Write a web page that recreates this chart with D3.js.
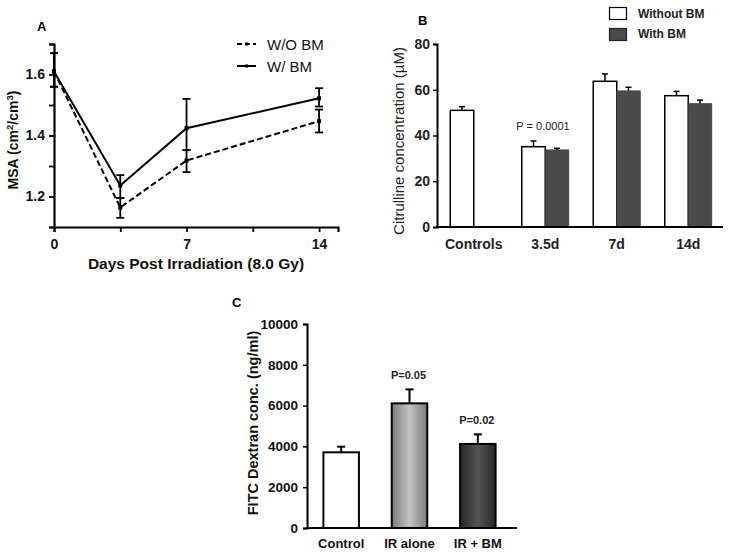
<!DOCTYPE html>
<html><head><meta charset="utf-8">
<script src="https://cdn.jsdelivr.net/npm/d3@7"></script>
<style>body{margin:0;background:#fff}svg{display:block}text{font-family:Arial,"Liberation Sans",sans-serif}</style>
</head><body>
<script>
// ---- Panel A data ----
const daysA = [0, 3.5, 7, 14];
const woBM = [1.61, 1.164, 1.318, 1.447];
const woBMlo = [1.56, 1.13, 1.28, 1.41];
const woBMhi = [1.67, 1.195, 1.352, 1.485];
const wBM = [1.61, 1.236, 1.424, 1.522];
const wBMlo = [1.56, 1.195, 1.352, 1.495];
const wBMhi = [1.67, 1.27, 1.52, 1.555];
const ticksA_x = [0, 7, 14];
const ticksA_y = [1.2, 1.4, 1.6];
// ---- Panel B data ----
const catsB = ["Controls", "3.5d", "7d", "14d"];
const withoutBM = [51.0, 35.1, 63.7, 57.4];
const withoutBMerr = [1.6, 2.5, 3.2, 1.9];
const withBM = [null, 33.7, 59.5, 53.9];
const withBMerr = [null, 0.7, 1.6, 1.6];
const ticksB_y = [0, 20, 40, 60, 80];
// ---- Panel C data ----
const catsC = ["Control", "IR alone", "IR + BM"];
const fitc = [3710, 6110, 4120];
const fitcErr = [275, 685, 470];
const pC = [null, "P=0.05", "P=0.02"];
const ticksC_y = [0, 2000, 4000, 6000, 8000, 10000];

const svg = d3.select("body").append("svg").attr("width", 729).attr("height", 554);

// ================= Panel A =================
{
  const x = d3.scaleLinear().domain([0, 15]).range([54, 338]);
  const y = d3.scaleLinear().domain([1.1, 1.7]).range([227, 44]);
  const g = svg.append("g");
  const xa = g.append("g").attr("transform", "translate(0,227)")
    .call(d3.axisBottom(x).tickValues([0, 3.5, 7, 10.5, 14]).tickSize(5)
      .tickFormat(d => ticksA_x.includes(d) ? d : ""));
  const ya = g.append("g").attr("transform", "translate(54,0)")
    .call(d3.axisLeft(y).tickValues([1.1, 1.2, 1.3, 1.4, 1.5, 1.6, 1.7]).tickSize(5)
      .tickFormat(d => ticksA_y.some(t => Math.abs(t - d) < 1e-9) ? d3.format(".1f")(d) : ""));
  [xa, ya].forEach(a => {
    a.select(".domain").attr("stroke", "#000").attr("stroke-width", 2.2);
    a.selectAll(".tick line").attr("stroke", "#000").attr("stroke-width", 1.8);
    a.selectAll("text").attr("fill", "#111").style("font-size", "14px").style("font-weight", "bold");
  });
  xa.selectAll("text").attr("dy", "1.0em");
  ya.selectAll("text").attr("dx", "-1px");

  const line = d3.line().x((d, i) => x(daysA[i])).y(d => y(d));
  const series = [
    {v: woBM, lo: woBMlo, hi: woBMhi, dash: "6,3"},
    {v: wBM, lo: wBMlo, hi: wBMhi, dash: null}
  ];
  series.forEach(s => {
    g.append("path").attr("d", line(s.v)).attr("fill", "none").attr("stroke", "#000")
      .attr("stroke-width", 2).attr("stroke-dasharray", s.dash);
    daysA.forEach((d, i) => {
      const cx = x(d);
      g.append("line").attr("x1", cx).attr("x2", cx).attr("y1", y(s.lo[i])).attr("y2", y(s.hi[i]))
        .attr("stroke", "#000").attr("stroke-width", 1.8);
      [s.lo[i], s.hi[i]].forEach(v => g.append("line").attr("x1", cx - 4).attr("x2", cx + 4)
        .attr("y1", y(v)).attr("y2", y(v)).attr("stroke", "#000").attr("stroke-width", 1.8));
      g.append("rect").attr("x", cx - 2).attr("y", y(s.v[i]) - 2).attr("width", 4).attr("height", 4).attr("fill", "#000");
    });
  });
  // legend
  const leg = [{t: "W/O BM", dash: "5,3", y: 44}, {t: "W/ BM", dash: null, y: 66}];
  leg.forEach(l => {
    g.append("line").attr("x1", 237).attr("x2", 256).attr("y1", l.y).attr("y2", l.y)
      .attr("stroke", "#000").attr("stroke-width", 2).attr("stroke-dasharray", l.dash);
    g.append("rect").attr("x", 245).attr("y", l.y - 1.5).attr("width", 3).attr("height", 3).attr("fill", "#000");
    g.append("text").attr("x", 267).attr("y", l.y + 5.5).text(l.t).style("font-size", "15px").attr("fill", "#111");
  });
  g.append("text").attr("x", 196).attr("y", 269).attr("text-anchor", "middle")
    .style("font-size", "15.5px").style("font-weight", "bold").attr("fill", "#111").text("Days Post Irradiation (8.0 Gy)");
  const yl = g.append("text").attr("transform", "translate(18,140) rotate(-90)").attr("text-anchor", "middle")
    .style("font-size", "14px").style("font-weight", "bold").attr("fill", "#111");
  yl.append("tspan").text("MSA (cm");
  yl.append("tspan").text("2").attr("dy", -5).style("font-size", "9.5px");
  yl.append("tspan").text("/cm").attr("dy", 5);
  yl.append("tspan").text("3").attr("dy", -5).style("font-size", "9.5px");
  yl.append("tspan").text(")").attr("dy", 5);
  g.append("text").attr("x", 37).attr("y", 31).text("A").style("font-size", "13px").style("font-weight", "bold");
}

// ================= Panel B =================
{
  const x = d3.scaleBand().domain(catsB).range([438, 724]).paddingInner(0).paddingOuter(0);
  const y = d3.scaleLinear().domain([0, 80]).range([227, 44]);
  const g = svg.append("g");
  const bw = 23.5;
  catsB.forEach((c, i) => {
    const cx = x(c) + x.bandwidth() / 2;
    const v = withoutBM[i];
    g.append("line").attr("x1", cx - bw / 2).attr("x2", cx - bw / 2).attr("y1", y(v)).attr("y2", y(v + withoutBMerr[i]))
      .attr("stroke", "#000").attr("stroke-width", 1.5);
    g.append("line").attr("x1", cx - bw / 2 - 3).attr("x2", cx - bw / 2 + 3).attr("y1", y(v + withoutBMerr[i])).attr("y2", y(v + withoutBMerr[i]))
      .attr("stroke", "#000").attr("stroke-width", 1.5);
    g.append("rect").attr("x", cx - bw).attr("y", y(v)).attr("width", bw).attr("height", y(0) - y(v))
      .attr("fill", "#fff").attr("stroke", "#000").attr("stroke-width", 1.5);
    if (withBM[i] != null) {
      const w = withBM[i];
      g.append("line").attr("x1", cx + bw / 2).attr("x2", cx + bw / 2).attr("y1", y(w)).attr("y2", y(w + withBMerr[i]))
        .attr("stroke", "#000").attr("stroke-width", 1.5);
      g.append("line").attr("x1", cx + bw / 2 - 3).attr("x2", cx + bw / 2 + 3).attr("y1", y(w + withBMerr[i])).attr("y2", y(w + withBMerr[i]))
        .attr("stroke", "#000").attr("stroke-width", 1.5);
      g.append("rect").attr("x", cx).attr("y", y(w)).attr("width", bw).attr("height", y(0) - y(w))
        .attr("fill", "#4a4a4a").attr("stroke", "#3a3a3a").attr("stroke-width", 0.8);
    }
  });
  const ya = g.append("g").attr("transform", "translate(437,0)")
    .call(d3.axisLeft(y).tickValues(ticksB_y).tickSize(4));
  ya.select(".domain").attr("stroke", "#000").attr("stroke-width", 2);
  ya.selectAll(".tick line").attr("stroke", "#000").attr("stroke-width", 1.5);
  ya.selectAll("text").style("font-size", "14px").style("font-weight", "bold").attr("fill", "#222");
  g.append("line").attr("x1", 436).attr("x2", 723).attr("y1", 227).attr("y2", 227).attr("stroke", "#000").attr("stroke-width", 2);
  catsB.forEach(c => g.append("text").attr("x", x(c) + x.bandwidth() / 2).attr("y", 249).attr("text-anchor", "middle")
    .style("font-size", "14px").style("font-weight", "bold").attr("fill", "#222").text(c));
  g.append("text").attr("x", 543).attr("y", 130).attr("text-anchor", "middle").style("font-size", "11px").attr("fill", "#222").text("P = 0.0001");
  g.append("text").attr("transform", "translate(404,141) rotate(-90)").attr("text-anchor", "middle")
    .style("font-size", "15px").attr("fill", "#222").text("Citrulline concentration (µM)");
  g.append("text").attr("x", 418).attr("y", 25).text("B").style("font-size", "13px").style("font-weight", "bold");
  // legend
  g.append("rect").attr("x", 609.5).attr("y", 7.5).attr("width", 17).attr("height", 12).attr("fill", "#fff").attr("stroke", "#000").attr("stroke-width", 1.2);
  g.append("text").attr("x", 638).attr("y", 18).text("Without BM").style("font-size", "12px").style("font-weight", "bold").attr("fill", "#222");
  g.append("rect").attr("x", 609.5).attr("y", 28.5).attr("width", 17).attr("height", 12).attr("fill", "#4a4a4a").attr("stroke", "#222").attr("stroke-width", 1.2);
  g.append("text").attr("x", 638).attr("y", 38).text("With BM").style("font-size", "12px").style("font-weight", "bold").attr("fill", "#222");
}

// ================= Panel C =================
{
  const defs = svg.append("defs");
  const mk = (id, edge, mid) => {
    const lg = defs.append("linearGradient").attr("id", id).attr("x1", "0").attr("x2", "1").attr("y1", "0").attr("y2", "0");
    lg.append("stop").attr("offset", "0").attr("stop-color", edge);
    lg.append("stop").attr("offset", "0.5").attr("stop-color", mid);
    lg.append("stop").attr("offset", "1").attr("stop-color", edge);
  };
  mk("gLight", "#7a7a7a", "#c4c4c4");
  mk("gDark", "#262626", "#555555");
  const fills = ["#fff", "url(#gLight)", "url(#gDark)"];
  const x = d3.scaleBand().domain(catsC).range([307, 512]).paddingInner(0.48).paddingOuter(0.24);
  const y = d3.scaleLinear().domain([0, 10000]).range([528, 324]);
  const g = svg.append("g");
  catsC.forEach((c, i) => {
    const x0 = x(c), bw = x.bandwidth(), cx = x0 + bw / 2;
    g.append("line").attr("x1", cx).attr("x2", cx).attr("y1", y(fitc[i])).attr("y2", y(fitc[i] + fitcErr[i]))
      .attr("stroke", "#000").attr("stroke-width", 2);
    g.append("line").attr("x1", cx - 4).attr("x2", cx + 4).attr("y1", y(fitc[i] + fitcErr[i])).attr("y2", y(fitc[i] + fitcErr[i]))
      .attr("stroke", "#000").attr("stroke-width", 2);
    g.append("rect").attr("x", x0).attr("y", y(fitc[i])).attr("width", bw).attr("height", y(0) - y(fitc[i]))
      .attr("fill", fills[i]).attr("stroke", "#000").attr("stroke-width", 2);
    if (pC[i]) g.append("text").attr("x", cx - 1).attr("y", y(fitc[i] + fitcErr[i]) - 10).attr("text-anchor", "middle")
      .style("font-size", "11px").style("font-weight", "bold").attr("fill", "#222").text(pC[i]);
  });
  const ya = g.append("g").attr("transform", "translate(307,0)")
    .call(d3.axisLeft(y).tickValues(ticksC_y).tickSize(4).tickFormat(d3.format("d")));
  ya.select(".domain").attr("stroke", "#000").attr("stroke-width", 2);
  ya.selectAll(".tick line").attr("stroke", "#000").attr("stroke-width", 1.5);
  ya.selectAll("text").style("font-size", "13.5px").style("font-weight", "bold").attr("fill", "#111").attr("dx", "-2px");
  g.append("line").attr("x1", 306).attr("x2", 517).attr("y1", 528).attr("y2", 528).attr("stroke", "#000").attr("stroke-width", 2);
  catsC.forEach(c => g.append("text").attr("x", x(c) + x.bandwidth() / 2).attr("y", 548).attr("text-anchor", "middle")
    .style("font-size", "13px").style("font-weight", "bold").attr("fill", "#111").text(c));
  g.append("text").attr("transform", "translate(258,423) rotate(-90)").attr("text-anchor", "middle")
    .style("font-size", "14.5px").style("font-weight", "bold").attr("fill", "#111").text("FITC Dextran conc. (ng/ml)");
  g.append("text").attr("x", 232).attr("y", 307).text("C").style("font-size", "13px").style("font-weight", "bold");
}
</script>
</body></html>
